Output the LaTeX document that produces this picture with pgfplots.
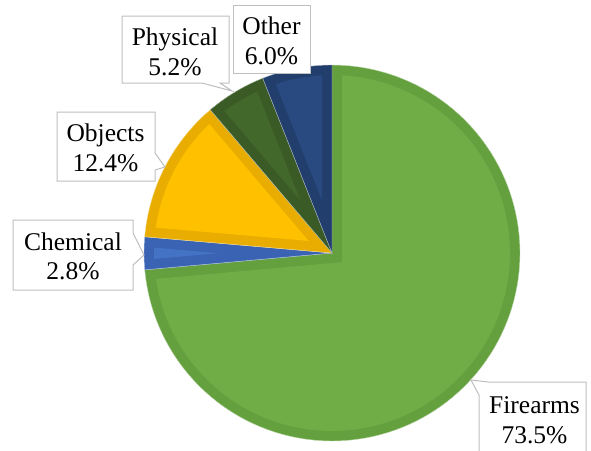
\documentclass[border=0pt]{standalone}
\usepackage{pgfplots}
\pgfplotsset{compat=1.18}
\usepackage{fontspec}
\setmainfont{Liberation Serif}
\newfontfamily\lbfont{Liberation Serif}
\definecolor{fireL}{HTML}{70AD47}\definecolor{fireD}{HTML}{64A03E}
\definecolor{chemL}{HTML}{4472C4}\definecolor{chemD}{HTML}{3A64B3}
\definecolor{objL}{HTML}{FFC000}\definecolor{objD}{HTML}{E8AD00}
\definecolor{physL}{HTML}{43682B}\definecolor{physD}{HTML}{3A5B25}
\definecolor{othL}{HTML}{294A80}\definecolor{othD}{HTML}{223E6C}
\definecolor{boxC}{HTML}{BFBFBF}
% data (percent)
\def\vFire{73.5}\def\vChem{2.8}\def\vObj{12.4}\def\vPhys{5.2}\def\vOth{6.0}
\def\CX{332}\def\CY{253}\def\R{188}\def\W{10}
\newcommand\slicegeo[3]{%
 \pgfmathsetmacro\tmpH{(#2-#1)/2}%
 \pgfmathsetmacro\tmpB{(#1+#2)/2}%
 \pgfmathsetmacro\tmpD{\W/sin(\tmpH)}%
 \pgfmathsetmacro\tmpX{\CX+\tmpD*cos(\tmpB)}%
 \pgfmathsetmacro\tmpY{\CY-\tmpD*sin(\tmpB)}%
 \pgfmathsetmacro\tmpDl{asin(\W/(\R-\W))}%
 \pgfmathsetmacro\tmpS{#1+\tmpDl}%
 \pgfmathsetmacro\tmpE{#2-\tmpDl}%
 \expandafter\xdef\csname #3lo\endcsname{#1}%
 \expandafter\xdef\csname #3hi\endcsname{#2}%
 \expandafter\xdef\csname #3X\endcsname{\tmpX}%
 \expandafter\xdef\csname #3Y\endcsname{\tmpY}%
 \expandafter\xdef\csname #3S\endcsname{\tmpS}%
 \expandafter\xdef\csname #3E\endcsname{\tmpE}%
}
\newcommand\slice[3]{% prefix, dark, light
 \addplot[fill=#2, draw=white!60!#2, line width=0.4bp, domain=\csname #1lo\endcsname:\csname #1hi\endcsname, samples=120, variable=\t]
   ({\CX+\R*cos(\t)},{\CY-\R*sin(\t)}) -- (axis cs:\CX,\CY) -- cycle;
 \addplot[fill=#3, draw=none, domain=\csname #1S\endcsname:\csname #1E\endcsname, samples=120, variable=\t]
   ({\CX+(\R-\W)*cos(\t)},{\CY-(\R-\W)*sin(\t)}) -- (axis cs:\csname #1X\endcsname,\csname #1Y\endcsname) -- cycle;
}
\pgfmathsetmacro\tot{\vFire+\vChem+\vObj+\vPhys+\vOth}
\pgfmathsetmacro\bA{90-\vFire/\tot*360}
\pgfmathsetmacro\bB{\bA-\vChem/\tot*360}
\pgfmathsetmacro\bC{\bB-\vObj/\tot*360}
\pgfmathsetmacro\bD{\bC-\vPhys/\tot*360}
\pgfmathsetmacro\bE{\bD-\vOth/\tot*360}
\slicegeo{\bA}{90}{fire}
\slicegeo{\bB}{\bA}{chem}
\slicegeo{\bC}{\bB}{obj}
\slicegeo{\bD}{\bC}{phys}
\slicegeo{\bE}{\bD}{oth}
\begin{document}%
\begin{tikzpicture}
\begin{axis}[x=1bp, y=1bp, xmin=0, xmax=591, ymin=0, ymax=451, y dir=reverse,
  hide axis, clip=false, axis line style={draw=none}]
\slice{fire}{fireD}{fireL}
\slice{chem}{chemD}{chemL}
\slice{obj}{objD}{objL}
\slice{phys}{physD}{physL}
\slice{oth}{othD}{othL}
% label boxes
\tikzset{lbl/.style={font=\lbfont\fontsize{25.5bp}{29.5bp}\selectfont, anchor=base, inner sep=0pt}}
\draw[boxC, line width=1bp, fill=white] (axis cs:233,5) rectangle (axis cs:310,73);
\node[lbl] at (axis cs:271.5,34) {Other};
\node[lbl] at (axis cs:271.5,64) {6.0\%};
\draw[boxC, line width=1bp, fill=white] (axis cs:122,16) -- (axis cs:229,16) -- (axis cs:229,83) -- (axis cs:220,83) -- (axis cs:232,91) -- (axis cs:202,83) -- (axis cs:122,83) -- cycle;
\node[lbl] at (axis cs:175,45.5) {Physical};
\node[lbl] at (axis cs:175,75) {5.2\%};
\draw[boxC, line width=1bp, fill=white] (axis cs:57,112) -- (axis cs:155,112) -- (axis cs:155,153) -- (axis cs:165,167) -- (axis cs:155,170) -- (axis cs:155,181) -- (axis cs:57,181) -- cycle;
\node[lbl] at (axis cs:105.5,141) {Objects};
\node[lbl] at (axis cs:105.5,171) {12.4\%};
\draw[boxC, line width=1bp, fill=white] (axis cs:13,220) -- (axis cs:133,220) -- (axis cs:133,233) -- (axis cs:144,255) -- (axis cs:133,265) -- (axis cs:133,290) -- (axis cs:13,290) -- cycle;
\node[lbl] at (axis cs:73,250) {Chemical};
\node[lbl] at (axis cs:73,279) {2.8\%};
\draw[boxC, line width=1bp, fill=white] (axis cs:479,470) -- (axis cs:479,395) -- (axis cs:471,380) -- (axis cs:488,382) -- (axis cs:586,382) -- (axis cs:586,470);
\node[lbl] at (axis cs:534.5,413) {Firearms};
\node[lbl] at (axis cs:534.5,443) {73.5\%};
\end{axis}
\pgfresetboundingbox
\path (0,0) rectangle (591bp,451bp);
\end{tikzpicture}%
\end{document}
